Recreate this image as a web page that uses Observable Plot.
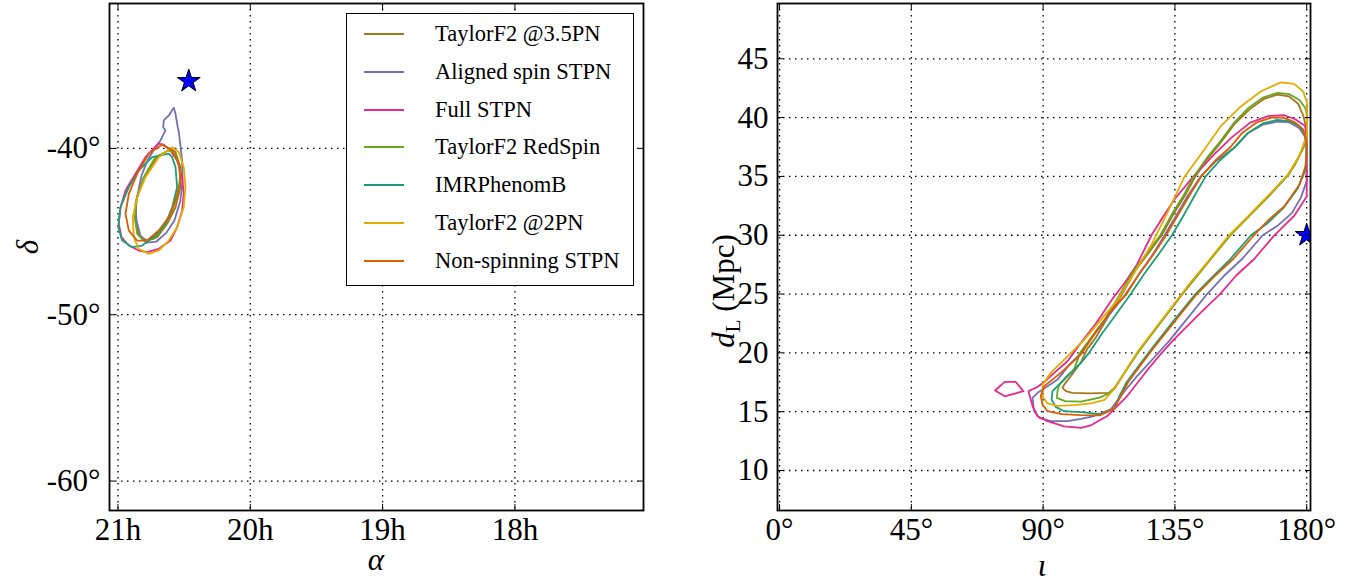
<!DOCTYPE html>
<html><head><meta charset="utf-8">
<script src="https://cdn.jsdelivr.net/npm/d3@7"></script>
<script src="https://cdn.jsdelivr.net/npm/@observablehq/plot@0.6"></script>
<style>
body{margin:0;background:#fff;}
#wrap{position:relative;width:1362px;height:585px;overflow:hidden;font-family:"Liberation Serif","DejaVu Serif",serif;color:#000;}
.panel{position:absolute;top:0;}
.lab{position:absolute;font-size:31px;line-height:0.6;white-space:nowrap;transform:translate(-50%,-50%);}
.rot{transform:translate(-50%,-50%) rotate(-90deg);line-height:0.9;}
.it{font-style:italic;}
#legend{position:absolute;left:346px;top:13px;width:286px;height:271px;border:1.5px solid #000;background:#fff;}
.row{position:absolute;left:0;height:30px;width:100%;}
.sw{position:absolute;left:17px;top:9px;}
.tx{position:absolute;left:88px;top:0;font-size:22.5px;line-height:30px;white-space:nowrap;}
</style></head><body><div id="wrap"></div>
<script>
// ---- series ----
const seriesNames = ["TaylorF2 @3.5PN","Aligned spin STPN","Full STPN","TaylorF2 RedSpin","IMRPhenomB","TaylorF2 @2PN","Non-spinning STPN"];
const seriesColors = ["#a6761d","#7570b3","#e7298a","#66a61e","#1b9e77","#e6ab02","#d95f02"];

// ---- ticks ----
const raTicks = [21,20,19,18];
const raTickLabels = ["21h","20h","19h","18h"];
const decTicks = [-40,-50,-60];
const decTickLabels = ["-40°","-50°","-60°"];
const incTicks = [0,45,90,135,180];
const incTickLabels = ["0°","45°","90°","135°","180°"];
const distTicks = [10,15,20,25,30,35,40,45];
const distTickLabels = ["10","15","20","25","30","35","40","45"];

// ---- sky contours: [alpha (h), delta (deg)] ----
const skyTaylorF2_35 = [[20.603,-40.02],[20.704,-40.53],[20.805,-41.83],[20.862,-43.13],[20.868,-44.34],[20.843,-45.24],[20.779,-45.54],[20.704,-45.34],[20.628,-44.53],[20.565,-43.54],[20.528,-42.33],[20.528,-41.13],[20.565,-40.23]];
const skyAligned = [[20.578,-37.56],[20.616,-38.02],[20.654,-38.32],[20.658,-38.73],[20.641,-38.92],[20.679,-39.52],[20.732,-40.13],[20.777,-40.73],[20.822,-41.63],[20.845,-42.53],[20.868,-43.33],[20.860,-44.34],[20.830,-45.24],[20.785,-45.66],[20.709,-45.60],[20.633,-45.06],[20.573,-44.34],[20.528,-43.13],[20.512,-41.93],[20.515,-40.73],[20.528,-39.83],[20.540,-39.03],[20.548,-38.73],[20.565,-37.92]];
const skyFull = [[20.696,-39.72],[20.792,-40.53],[20.868,-41.53],[20.943,-42.53],[20.981,-43.54],[20.994,-44.53],[20.974,-45.34],[20.918,-45.84],[20.843,-46.14],[20.779,-46.24],[20.692,-46.04],[20.603,-45.54],[20.553,-44.74],[20.515,-43.73],[20.503,-42.73],[20.515,-41.73],[20.553,-40.73],[20.603,-40.13],[20.654,-39.77]];
const skyRedSpin = [[20.616,-40.13],[20.717,-40.53],[20.805,-41.73],[20.855,-42.93],[20.873,-44.14],[20.855,-45.14],[20.805,-45.54],[20.729,-45.44],[20.654,-44.74],[20.590,-43.73],[20.540,-42.53],[20.528,-41.33],[20.565,-40.32]];
const skyIMRPhenomB = [[20.616,-40.32],[20.741,-40.53],[20.843,-41.33],[20.918,-42.33],[20.981,-43.54],[20.998,-44.74],[20.968,-45.54],[20.893,-45.94],[20.817,-45.84],[20.717,-45.24],[20.641,-44.53],[20.590,-43.54],[20.553,-42.33],[20.565,-41.13],[20.590,-40.53]];
const skyTaylorF2_2 = [[20.590,-39.93],[20.692,-40.53],[20.792,-41.73],[20.855,-42.93],[20.888,-44.14],[20.881,-45.34],[20.843,-46.04],[20.767,-46.34],[20.692,-46.14],[20.616,-45.54],[20.553,-44.74],[20.503,-43.54],[20.490,-42.33],[20.503,-41.13],[20.540,-40.23]];
const skyNonSpin = [[20.666,-39.77],[20.767,-40.32],[20.855,-41.53],[20.918,-42.73],[20.943,-43.93],[20.918,-44.94],[20.855,-45.54],[20.779,-45.54],[20.692,-44.94],[20.616,-44.14],[20.565,-43.13],[20.528,-41.93],[20.540,-40.93],[20.590,-40.13]];
const skyInjection = [[20.465,-35.96]];

// ---- inclination / distance contours: [iota (deg), dL (Mpc)] ----
const distTaylorF2_35 = [[97.2,17.3],[100,18.2],[102.9,19.2],[105,20.3],[108,21.3],[112,23],[117,25],[121.5,27],[126,28.5],[130.5,30],[134.5,31.8],[138.5,33.4],[142,35],[146.5,36.6],[151,38.0],[155.5,39.5],[160.5,40.7],[165.5,41.6],[170,41.95],[174,41.8],[177,41.2],[178.8,40.2],[180,39.0],[179,37.5],[176,36],[173.5,35.1],[166.8,33.3],[160.1,31.6],[153.7,30.0],[146.9,27.9],[137.5,25.0],[129.2,22.3],[122.2,20.0],[117.5,18.2],[114.3,17.0],[112.5,16.6],[106,16.55],[100,16.6],[97.8,16.74],[96.6,17.03]];
const distAligned = [[88.1,16.6],[91.5,17.17],[94.9,17.73],[99,19.0],[103,20],[107,21.4],[112.5,23.2],[118.2,25],[122.5,26.6],[127,28.2],[131.5,30],[135.5,31.7],[139.5,33.4],[143.8,35],[149,36.3],[155,37.4],[160,38.7],[165,39.4],[170,39.65],[174,39.6],[177.5,39.1],[179.6,38.3],[180,37.3],[180,34.6],[178,33.2],[175,31.9],[170,30.8],[165,30.0],[158,28],[152,26.6],[146,25.0],[139.5,23],[133,21],[127.5,19.5],[122,18],[118,16.8],[113.1,15.2],[107,14.6],[102.9,14.39],[98.3,14.19],[92.6,14.19],[88.7,14.48],[86.9,15.04],[86.4,16.17]];
const distFull = [[85.0,16.74],[88.1,17.11],[90.1,17.45],[93.8,18.30],[98.3,19.29],[102.9,20.85],[108,22.5],[114,24.7],[118,26],[122,27.5],[127,30],[131,31.6],[135,33.1],[141,34.9],[147.9,36.74],[154.3,38.3],[160.7,39.57],[167.1,40.14],[172.3,40.2],[176.1,39.86],[179.4,39.3],[180,38.5],[180,33.3],[175.7,31.64],[168.8,29.94],[162.0,27.96],[156,26.6],[150.4,25],[143.8,23.42],[134.7,21.15],[130.5,20],[126.7,18.88],[118.7,16.33],[111.9,14.63],[106.2,13.83],[102.9,13.63],[97.2,13.76],[91.5,14.19],[88.1,14.61],[86.4,15.46]];
const distFullIsland = [[73.6,16.8],[76.9,17.54],[80.6,17.54],[83.3,16.74],[76.9,16.31]];
const distRedSpin = [[95.5,17.3],[98,18.0],[100.6,18.6],[102.6,20],[107,21.5],[111.5,23],[116.3,25],[121,27],[125.5,28.5],[130,30],[134,31.8],[138,33.4],[141.5,35],[146,36.6],[150.6,38.0],[155,39.5],[160,40.8],[165,41.7],[170,42.1],[174,42.0],[177.5,41.5],[179.6,40.8],[180.2,40.0],[180,38.3],[178,37],[174,35.2],[167,33.3],[160.3,31.6],[154,30.0],[147,27.9],[137.6,25.0],[129.3,22.3],[122.3,20.0],[117.8,18.3],[114.5,17.0],[112,16.5],[109.3,16.2],[102.9,15.85],[97.5,15.9],[94.7,16.17],[94.9,16.74]];
const distIMRPhenomB = [[93.2,16.74],[98.3,18.0],[102.9,19.15],[105.7,20],[110,21.6],[115,23.3],[119.9,25],[124.5,26.7],[129.5,28.4],[134,30],[138,31.7],[141.8,33.4],[145.5,35],[150.5,36.4],[156,37.6],[160,38.7],[165,39.5],[170,39.8],[174,39.7],[177.5,39.3],[179.6,38.5],[180,37.5],[179.5,35.5],[177,34],[172,32.3],[166.5,31],[161,30.0],[154,28],[148,26.5],[142,25.0],[134.5,22.7],[127.5,20.5],[123,19],[118.5,17.5],[116,16.3],[114.4,15.3],[110,14.77],[102.9,14.96],[97.2,15.04],[94.3,15.41],[92.9,16.03]];
const distTaylorF2_2 = [[89.8,17.3],[92.6,18.3],[98.3,19.7],[104.0,21.1],[109.7,22.8],[115.4,24.5],[121.1,26.8],[126.8,29.1],[132.4,31.9],[138.1,34.9],[145.0,37.26],[150.6,39.25],[157.5,40.95],[164.3,42.22],[171.1,43.0],[175.7,42.87],[178.8,42.22],[180.2,41.2],[180.1,38.5],[177.4,36.7],[173.4,35.1],[166.6,33.3],[160,31.6],[153.5,30.0],[146.7,27.9],[140.4,26.0],[137.3,25.0],[129.0,22.3],[122,20.0],[117.7,18.3],[114.5,17.0],[111,16.0],[106.3,15.7],[100.6,15.55],[94.9,15.5],[91.5,15.7],[89.8,16.3]];
const distNonSpin = [[90.4,17.17],[96.0,18.3],[102.9,19.86],[108,21.8],[113,23.5],[118.5,25],[123,26.8],[127.5,28.3],[132,30],[136,31.7],[140,33.4],[144,35],[149,36.4],[154,37.5],[158,38.7],[163,39.6],[168,40.0],[172,40.0],[176,39.6],[178.8,39.0],[180,38.0],[179.8,36],[177.5,34.3],[172.5,32.5],[167,31.3],[162,30.0],[155,28.0],[148.5,26.5],[142.5,25.0],[135,22.7],[128,20.5],[123.4,19.0],[119,17.5],[116.5,16.3],[114.4,15.3],[109.3,14.69],[102.9,14.7],[96.4,14.8],[91.5,15.04],[89.8,15.61],[89.2,16.32]];
const distInjection = [[180,30]];

// ---- build tables ----
function toRows(arr, series, poly) { return arr.map(([x, y]) => ({x, y, series, poly: poly || series})); }
const skyRows = [
  ...toRows(skyTaylorF2_35, seriesNames[0]), ...toRows(skyAligned, seriesNames[1]), ...toRows(skyFull, seriesNames[2]),
  ...toRows(skyRedSpin, seriesNames[3]), ...toRows(skyIMRPhenomB, seriesNames[4]), ...toRows(skyTaylorF2_2, seriesNames[5]),
  ...toRows(skyNonSpin, seriesNames[6])
];
const distRows = [
  ...toRows(distTaylorF2_35, seriesNames[0]), ...toRows(distAligned, seriesNames[1]), ...toRows(distFull, seriesNames[2]),
  ...toRows(distFullIsland, seriesNames[2], "Full STPN island"),
  ...toRows(distRedSpin, seriesNames[3]), ...toRows(distIMRPhenomB, seriesNames[4]), ...toRows(distTaylorF2_2, seriesNames[5]),
  ...toRows(distNonSpin, seriesNames[6])
];

const grid = {stroke: "#000", strokeOpacity: 1, strokeWidth: 1.3, strokeDasharray: "1.5,4.5"};
function panel({width, ml, mr, xDomain, yDomain, xTicks, xLabels, yTicks, yLabels, rows, star}) {
  const fx = d => xLabels[xTicks.indexOf(d)];
  const fy = d => yLabels[yTicks.indexOf(d)];
  const none = () => "";
  const svg = Plot.plot({
    width, height: 585, marginLeft: ml, marginRight: mr, marginTop: 3, marginBottom: 75,
    x: {domain: xDomain}, y: {domain: yDomain},
    color: {domain: seriesNames, range: seriesColors},
    style: {fontFamily: "'Liberation Serif', serif", fontSize: "31px", color: "#000", background: "transparent", overflow: "visible"},
    marks: [
      Plot.gridX(xTicks, grid),
      Plot.gridY(yTicks, grid),
      Plot.line(rows, {x: "x", y: "y", z: "poly", stroke: "series", curve: "linear-closed", strokeWidth: 1.8}),
      Plot.dot(star, {x: d => d[0], y: d => d[1], symbol: "star", r: 7.2, fill: "#0000ff", stroke: "#000", strokeWidth: 1}),
      Plot.axisX({ticks: xTicks, anchor: "bottom", tickSize: 0, tickPadding: 7, tickFormat: fx, label: null}),
      Plot.axisX({ticks: xTicks, anchor: "bottom", tickSize: -6, tickFormat: none, label: null}),
      Plot.axisX({ticks: xTicks, anchor: "top", tickSize: -6, tickFormat: none, label: null}),
      Plot.axisY({ticks: yTicks, anchor: "left", tickSize: 0, tickPadding: 9, tickFormat: fy, label: null}),
      Plot.axisY({ticks: yTicks, anchor: "left", tickSize: -6, tickFormat: none, label: null}),
      Plot.axisY({ticks: yTicks, anchor: "right", tickSize: -6, tickFormat: none, label: null}),
      Plot.frame({stroke: "#000", strokeWidth: 1.8})
    ]
  });
  // clip the injection marker to the axes frame (as matplotlib does)
  const ns = "http://www.w3.org/2000/svg";
  const id = "clip" + Math.random().toString(36).slice(2);
  const defs = document.createElementNS(ns, "defs");
  const cp = document.createElementNS(ns, "clipPath");
  cp.setAttribute("id", id);
  cp.setAttribute("clipPathUnits", "userSpaceOnUse");
  const rect = document.createElementNS(ns, "rect");
  rect.setAttribute("x", ml); rect.setAttribute("y", 3);
  rect.setAttribute("width", width - ml - mr); rect.setAttribute("height", 585 - 3 - 75);
  cp.appendChild(rect); defs.appendChild(cp); svg.insertBefore(defs, svg.firstChild);
  svg.querySelectorAll('g[aria-label="dot"]').forEach(g => g.setAttribute("clip-path", `url(#${id})`));
  return svg;
}

const wrap = document.getElementById("wrap");
const left = panel({width: 660, ml: 109, mr: 17, xDomain: [21.064, 17.028], yDomain: [-61.77, -31.29],
  xTicks: raTicks, xLabels: raTickLabels, yTicks: decTicks, yLabels: decTickLabels, rows: skyRows, star: skyInjection});
left.classList.add("panel"); left.style.left = "0px";
wrap.appendChild(left);
const right = panel({width: 682, ml: 97, mr: 52, xDomain: [-0.7, 181.3], yDomain: [6.6, 49.7],
  xTicks: incTicks, xLabels: incTickLabels, yTicks: distTicks, yLabels: distTickLabels, rows: distRows, star: distInjection});
right.classList.add("panel"); right.style.left = "680px";
wrap.appendChild(right);

// axis labels
function addLabel(html, x, y, cls) {
  const s = document.createElement("div");
  s.className = "lab " + (cls || "");
  s.innerHTML = html;
  s.style.left = x + "px"; s.style.top = y + "px";
  wrap.appendChild(s);
}
addLabel('<span class="it">α</span>', 376, 560);
addLabel('<span class="it">δ</span>', 28, 247, "rot");
addLabel('<span class="it">ι</span>', 1042, 566);
addLabel('<span class="it">d</span><span style="font-size:21px;position:relative;top:6px">L</span>&nbsp;(Mpc)', 724, 291, "rot");

// legend
const leg = document.createElement("div");
leg.id = "legend";
seriesNames.forEach((name, i) => {
  const r = document.createElement("div");
  r.className = "row";
  r.style.top = (5 + i * 37.8) + "px";
  r.innerHTML = `<svg class="sw" width="40" height="12"><line x1="0" x2="40" y1="6" y2="6" stroke="${seriesColors[i]}" stroke-width="1.8"/></svg><div class="tx">${name}</div>`;
  leg.appendChild(r);
});
wrap.appendChild(leg);
</script>
</body></html>
